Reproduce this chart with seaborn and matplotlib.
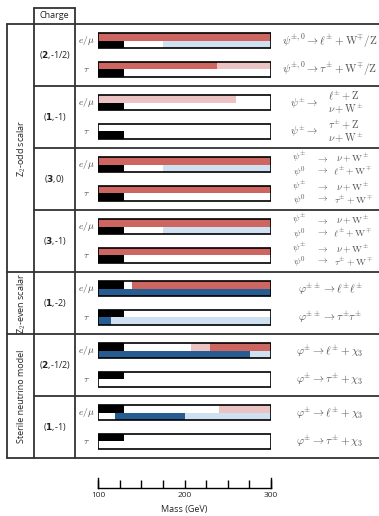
import numpy as np
import pandas as pd
import matplotlib
matplotlib.use("Agg")
import matplotlib.pyplot as plt
import seaborn as sns

sns.set_theme(style="white")
plt.rcParams['font.family'] = ['Open Sans', 'DejaVu Sans']
plt.rcParams['mathtext.fontset'] = 'cm'

# table content
groups = ["Z$_2$-odd scalar", "Z$_2$-even scalar", "Sterile neutrino model"]
group_rows = [4, 1, 2]
charges = [r"($\mathbf{2}$,-1/2)", r"($\mathbf{1}$,-1)", r"($\mathbf{3}$,0)", r"($\mathbf{3}$,-1)",
           r"($\mathbf{1}$,-2)", r"($\mathbf{2}$,-1/2)", r"($\mathbf{1}$,-1)"]
flavours = [r"$e/\mu$", r"$\tau$"]

# decay text per bar: 1 item = single line, 3 = lhs + two rhs, 4 = two (lhs, rhs) lines
decays = [
    [r"$\psi^{\pm,0} \rightarrow \ell^{\pm} + \mathrm{W}^{\mp}/\mathrm{Z}$"],
    [r"$\psi^{\pm,0} \rightarrow \tau^{\pm} + \mathrm{W}^{\mp}/\mathrm{Z}$"],
    [r"$\psi^{\pm} \rightarrow$", r"$\ell^{\pm} + \mathrm{Z}$", r"$\nu + \mathrm{W}^{\pm}$"],
    [r"$\psi^{\pm} \rightarrow$", r"$\tau^{\pm} + \mathrm{Z}$", r"$\nu + \mathrm{W}^{\pm}$"],
    [r"$\psi^{\pm}$", r"$\nu + \mathrm{W}^{\pm}$", r"$\psi^{0}$", r"$\ell^{\pm} + \mathrm{W}^{\mp}$"],
    [r"$\psi^{\pm}$", r"$\nu + \mathrm{W}^{\pm}$", r"$\psi^{0}$", r"$\tau^{\pm} + \mathrm{W}^{\mp}$"],
    [r"$\psi^{\pm}$", r"$\nu + \mathrm{W}^{\pm}$", r"$\psi^{0}$", r"$\ell^{\pm} + \mathrm{W}^{\mp}$"],
    [r"$\psi^{\pm}$", r"$\nu + \mathrm{W}^{\pm}$", r"$\psi^{0}$", r"$\tau^{\pm} + \mathrm{W}^{\mp}$"],
    [r"$\varphi^{\pm\pm} \rightarrow \ell^{\pm}\ell^{\pm}$"],
    [r"$\varphi^{\pm\pm} \rightarrow \tau^{\pm}\tau^{\pm}$"],
    [r"$\varphi^{\pm} \rightarrow \ell^{\pm} + \chi_3$"],
    [r"$\varphi^{\pm} \rightarrow \tau^{\pm} + \chi_3$"],
    [r"$\varphi^{\pm} \rightarrow \ell^{\pm} + \chi_3$"],
    [r"$\varphi^{\pm} \rightarrow \tau^{\pm} + \chi_3$"],
]

# mass ranges (GeV), one entry per coloured segment
seg_bar = [0, 0, 0, 1, 1, 1, 2, 2, 3,
           4, 4, 4, 5, 5, 6, 6, 6, 7, 7,
           8, 8, 8, 9, 9, 9,
           10, 10, 10, 10, 10, 11,
           12, 12, 12, 12, 13]
seg_half = ["top", "bot", "bot", "top", "top", "bot", "top", "bot", "bot",
            "top", "bot", "bot", "top", "bot", "top", "bot", "bot", "top", "bot",
            "top", "top", "bot", "top", "bot", "bot",
            "top", "top", "top", "bot", "bot", "top",
            "top", "top", "bot", "bot", "top"]
seg_lo = [100, 100, 175, 100, 238, 100, 100, 100, 100,
          100, 100, 175, 100, 100, 100, 100, 175, 100, 100,
          100, 139, 100, 100, 100, 115,
          100, 208, 230, 100, 276, 100,
          100, 240, 120, 200, 100]
seg_hi = [300, 130, 300, 238, 300, 130, 260, 130, 130,
          300, 130, 300, 300, 130, 300, 130, 300, 300, 130,
          130, 300, 300, 130, 115, 300,
          130, 230, 300, 276, 300, 130,
          130, 300, 200, 300, 130]
seg_kind = ["excl", "lep", "proj_weak", "excl", "excl_weak", "lep", "excl_weak", "lep", "lep",
            "excl", "lep", "proj_weak", "excl", "lep", "excl", "lep", "proj_weak", "excl", "lep",
            "lep", "excl", "proj", "lep", "proj", "proj_weak",
            "lep", "excl_weak", "excl", "proj", "proj_weak", "lep",
            "lep", "excl_weak", "proj", "proj_weak", "lep"]

mass_ticks = [100, 125, 150, 175, 200, 225, 250, 275, 300]
mass_labels = ["100", "", "", "", "200", "", "", "", "300"]

palette = {"lep": "black", "excl": "#CD6560", "excl_weak": "#EBC3C3",
           "proj": "#255C91", "proj_weak": "#CFE0F1"}

segs = pd.DataFrame({"bar": seg_bar, "half": seg_half, "lo": seg_lo, "hi": seg_hi, "kind": seg_kind})

W, H = 379, 516
fig = plt.figure(figsize=(W / 100, H / 100), dpi=100)

# layout in pixels
top_y, bot_y = 24, 458
n_rows = len(charges)
row_h = (bot_y - top_y) / n_rows
bar_off = [0.27, 0.73]
bar_h = 0.24
line_col = "#333333"
text_col = "#555555"

# background axes for the table frame and labels
bg = fig.add_axes([0, 0, 1, 1])
bg.set_xlim(0, W)
bg.set_ylim(H, 0)
bg.axis("off")

x_cat, x_chg, x_fl = 7, 34, 75
lw = 1.3
bg.plot([x_chg, x_fl], [8, 8], color=line_col, lw=lw)
bg.plot([x_cat, W], [top_y, top_y], color=line_col, lw=lw)
bg.plot([x_cat, W], [bot_y, bot_y], color=line_col, lw=lw)
group_ends = np.cumsum(group_rows)
for i in range(1, n_rows):
    y = top_y + i * row_h
    x0 = x_cat if i in group_ends else x_chg
    bg.plot([x0, W], [y, y], color=line_col, lw=lw)
bg.plot([x_cat, x_cat], [top_y, bot_y], color=line_col, lw=lw)
bg.plot([x_chg, x_chg], [8, bot_y], color=line_col, lw=lw)
bg.plot([x_fl, x_fl], [8, bot_y], color=line_col, lw=lw)

bg.text((x_chg + x_fl) / 2, 16, "Charge", ha="center", va="center", fontsize=6.5, color="#222222")

start = 0
for g, n in zip(groups, group_rows):
    yc = top_y + (start + n / 2) * row_h
    bg.text((x_cat + x_chg) / 2 + 1, yc, g, rotation=90, ha="center", va="center",
            fontsize=6.5, color="#222222")
    start += n

for r, c in enumerate(charges):
    yc = top_y + (r + 0.5) * row_h
    bg.text((x_chg + x_fl) / 2, yc, c, ha="center", va="center", fontsize=6.5,
            color="#222222", math_fontfamily="dejavusans")

for b, d in enumerate(decays):
    r, f = divmod(b, 2)
    yc = top_y + (r + bar_off[f]) * row_h
    bg.text(86, yc, flavours[f], ha="center", va="center", fontsize=7, color="#444444")
    if len(d) == 1:
        bg.text(330, yc, d[0], ha="center", va="center", fontsize=8, color=text_col)
    elif len(d) == 3:
        bg.text(304, yc, d[0], ha="center", va="center", fontsize=7.5, color=text_col)
        bg.text(328, yc, d[1] + "\n" + d[2], ha="left", va="center", fontsize=7.5,
                color=text_col, linespacing=0.95)
    else:
        kw = dict(ha="center", va="center", fontsize=7, color=text_col, linespacing=1.0)
        bg.text(299, yc, d[0] + "\n" + d[2], **kw)
        bg.text(322, yc, r"$\rightarrow$" + "\n" + r"$\rightarrow$", **kw)
        bg.text(353, yc, d[1] + "\n" + d[3], **kw)

# bar axes in GeV
ax = fig.add_axes([98 / W, (H - bot_y) / H, 173 / W, (bot_y - top_y) / H])
ax.set_xlim(100, 300)
ax.set_ylim(n_rows, 0)
ax.axis("off")

bar_y = np.array([r + bar_off[f] for r in range(n_rows) for f in range(2)])
segs["y"] = bar_y[segs["bar"]] + np.where(segs["half"] == "top", -bar_h / 4, bar_h / 4)
for kind, grp in segs.groupby("kind"):
    ax.barh(grp["y"], grp["hi"] - grp["lo"], left=grp["lo"], height=bar_h / 2,
            color=palette[kind], edgecolor="none", linewidth=0)
ax.barh(bar_y, 200, left=100, height=bar_h, fill=False, edgecolor="black", linewidth=1.2)

# mass scale
axm = fig.add_axes([98 / W, (H - 488) / H, 173 / W, 10 / H])
axm.set_xlim(100, 300)
axm.set_yticks([])
axm.spines["top"].set_visible(False)
for s in ["left", "right", "bottom"]:
    axm.spines[s].set_color("black")
    axm.spines[s].set_linewidth(1.0)
axm.set_xticks(mass_ticks)
axm.set_xticklabels(mass_labels, fontsize=6)
axm.tick_params(axis="x", direction="in", length=6, width=1.0, pad=3, bottom=True, color="black")
axm.set_xlabel("Mass (GeV)", fontsize=6.5, labelpad=4)
axm.set_facecolor("none")

fig.savefig("out.png", dpi=100)
